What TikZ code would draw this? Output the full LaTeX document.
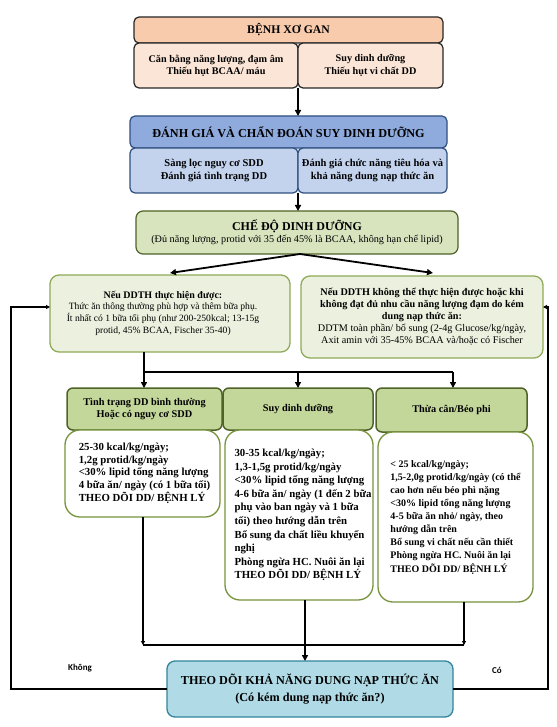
\documentclass[tikz,border=0pt]{standalone}
\usepackage{fontspec}
\setmainfont{Liberation Serif}
\newfontfamily\lblfont{Carlito}
\usetikzlibrary{arrows.meta}
\definecolor{peachH}{HTML}{F8CBAD}
\definecolor{peachS}{HTML}{FBE5D6}
\definecolor{blueH}{HTML}{8FAADC}
\definecolor{blueS}{HTML}{C3D3EE}
\definecolor{blueD}{HTML}{2F4F7F}
\definecolor{dietF}{HTML}{D8E4BE}
\definecolor{oliveD}{HTML}{4F6228}
\definecolor{condF}{HTML}{EBF1DE}
\definecolor{condD}{HTML}{8FAA58}
\definecolor{colH}{HTML}{C4D79B}
\definecolor{colD}{HTML}{77933C}
\definecolor{finF}{HTML}{B0DBE6}
\definecolor{finD}{HTML}{31849B}
\tikzset{
  box/.style={draw, rounded corners=5pt, inner sep=0pt, outer sep=0pt, align=center, line width=1.2pt},
  ph/.style={box, fill=peachH, draw=black!85, font=\bfseries\fontsize{11.7}{13}\selectfont},
  ps/.style={box, fill=peachS, draw=black!85, font=\bfseries\fontsize{10.2}{12.3}\selectfont},
  bh/.style={box, fill=blueH, draw=blueD, font=\bfseries\fontsize{12.2}{14}\selectfont},
  bs/.style={box, fill=blueS, draw=blueD, font=\bfseries\fontsize{10.5}{13}\selectfont},
  diet/.style={box, fill=dietF, draw=oliveD, rounded corners=7pt, font=\fontsize{10.2}{12.5}\selectfont},
  cond/.style={box, fill=condF, draw=condD, rounded corners=9pt, line width=1.3pt},
  colhead/.style={box, fill=colH, draw=oliveD, line width=1.5pt, rounded corners=6pt, font=\bfseries\fontsize{10.3}{12.8}\selectfont},
  colbody/.style={box, fill=white, draw=colD, line width=1.3pt, rounded corners=15pt},
  fin/.style={box, fill=finF, draw=finD, line width=1.3pt, rounded corners=8pt, font=\bfseries\fontsize{12.2}{17}\selectfont},
  arr/.style={line width=1.8pt, -{Triangle[length=6pt,width=6pt]}},
  thinarr/.style={line width=1.5pt, -{Triangle[length=4pt,width=4pt]}},
  ln/.style={line width=1.8pt},
  lbl/.style={font=\lblfont\bfseries\fontsize{9}{11}\selectfont}
}
\begin{document}
\begin{tikzpicture}[x=1pt,y=-1pt]
\useasboundingbox (0,0) rectangle (556,727);
% top block
\node[ph, minimum width=309pt, minimum height=26pt] (h1) at (288.5,30) {BỆNH XƠ GAN};
\node[ps, minimum width=164pt, minimum height=45pt] (p1) at (216,65.5) {Căn bằng năng lượng, đạm âm\\Thiếu hụt BCAA/ máu};
\node[ps, minimum width=145pt, minimum height=45pt] (p2) at (370.5,65.5) {Suy dinh dưỡng\\Thiếu hụt vi chất DD};
% blue block
\node[bh, minimum width=317pt, minimum height=32pt] (h2) at (288.5,132) {ĐÁNH GIÁ VÀ CHẨN ĐOÁN SUY DINH DƯỠNG};
\node[bs, minimum width=168pt, minimum height=45pt] (b1) at (214,170.5) {Sàng lọc nguy cơ SDD\\Đánh giá tình trạng DD};
\node[bs, minimum width=149pt, minimum height=45pt] (b2) at (372.5,170.5) {Đánh giá chức năng tiêu hóa và\\khả năng dung nạp thức ăn};
% diet
\node[diet, minimum width=322pt, minimum height=43pt] (d) at (297,232.5) {{\bfseries\fontsize{12}{14}\selectfont CHẾ ĐỘ DINH DƯỠNG}\\(Đủ năng lượng, protid với 35 đến 45\% là BCAA, không hạn chế lipid)};
% conditions
\node[cond, minimum width=240pt, minimum height=77pt, font=\fontsize{9.6}{11.6}\selectfont] (c1) at (170,313.5) {\begin{tabular}{@{}c@{}}\textbf{\fontsize{10}{11.6}\selectfont Nếu DDTH thực hiện được:}\\Thức ăn thông thường phù hợp và thêm bữa phụ.\\Ít nhất có 1 bữa tối phụ (như 200-250kcal; 13-15g\\protid, 45\% BCAA, Fischer 35-40)\end{tabular}\hspace*{14pt}};
\node[cond, minimum width=242pt, minimum height=82pt, font=\fontsize{10.2}{12}\selectfont] (c2) at (422,317) {\textbf{Nếu DDTH không thể thực hiện được hoặc khi}\\\textbf{không đạt đủ nhu cầu năng lượng đạm do kém}\\\textbf{dung nạp thức ăn:}\\DDTM toàn phần/ bổ sung (2-4g Glucose/kg/ngày,\\Axit amin với 35-45\% BCAA và/hoặc có Fischer};
% columns
\node[colhead, minimum width=155pt, minimum height=42pt] (k1) at (144.5,409) {Tình trạng DD bình thường\\Hoặc có nguy cơ SDD};
\node[colhead, minimum width=150pt, minimum height=42pt] (k2) at (298,409) {Suy dinh dưỡng};
\node[colhead, minimum width=151pt, minimum height=44pt] (k3) at (451.5,410) {Thừa cân/Béo phi};
\node[colbody, minimum width=155pt, minimum height=87pt, font=\bfseries\fontsize{10.8}{12.6}\selectfont] (m1) at (142.5,473.5) {\hspace*{4pt}\begin{tabular}{@{}l@{}}25-30 kcal/kg/ngày;\\1,2g protid/kg/ngày\\<30\% lipid tổng năng lượng\\4 bữa ăn/ ngày (có 1 bữa tối)\\THEO DÕI DD/ BỆNH LÝ\end{tabular}};
\node[colbody, minimum width=148pt, minimum height=170pt, font=\bfseries\fontsize{10.8}{13.6}\selectfont] (m2) at (299,515) {\hspace*{8pt}\begin{tabular}{@{}l@{}}30-35 kcal/kg/ngày;\\1,3-1,5g protid/kg/ngày\\<30\% lipid tổng năng lượng\\4-6 bữa ăn/ ngày (1 đến 2 bữa\\phụ vào ban ngày và 1 bữa\\tối) theo hướng dẫn trên\\Bổ sung đa chất liều khuyến\\nghị\\Phòng ngừa HC. Nuôi ăn lại\\THEO DÕI DD/ BỆNH LÝ\end{tabular}};
\node[colbody, minimum width=155pt, minimum height=170pt, font=\bfseries\fontsize{10}{13.1}\selectfont] (m3) at (455.5,517) {\begin{tabular}{@{}l@{}}< 25 kcal/kg/ngày;\\1,5-2,0g protid/kg/ngày (có thể\\cao hơn nếu béo phì nặng\\<30\% lipid tổng năng lượng\\4-5 bữa ăn nhỏ/ ngày, theo\\hướng dẫn trên\\Bổ sung vi chất nếu cần thiết\\Phòng ngừa HC. Nuôi ăn lại\\THEO DÕI DD/ BỆNH LÝ\end{tabular}};
% final
\node[fin, minimum width=286pt, minimum height=56pt] (f) at (310,689) {THEO DÕI KHẢ NĂNG DUNG NẠP THỨC ĂN\\(Có kém dung nạp thức ăn?)};
% labels
\node[lbl] (no) at (80,668) {Không};
\node[lbl] (yes) at (497,670) {Có};
% coordinates
\coordinate (j1) at (144,372);
\coordinate (j3) at (453,372);
\coordinate (q1) at (143,645);
\coordinate (q3) at (464,645);
% connectors
\draw[arr] (p1.south east) -- (p1.south east |- h2.north);
\draw[arr] (b1.south east) -- (b1.south east |- d.north);
\draw[arr] (d.south) ++(3,0) -- (170,273);
\draw[arr] (d.south) ++(3,0) -- (433,273);
\draw[ln] (c1.south -| j1) -- (j1) -- (j3);
\draw[arr] (j1) -- (j1 |- k1.north);
\draw[arr] (j1 -| k2.north) -- (k2.north);
\draw[arr] (j3) -- (j3 |- k3.north);
\draw[thinarr] (m1.south -| q1) -- (q1);
\draw[thinarr] (m3.south -| q3) -- (q3);
\draw[ln] (q1) -- (q3);
\draw[arr] (m2.south -| 305,0) -- (f.north -| 305,0);
\draw[thinarr] (f.west) -- (11,689) -- (11,307) -- (c1.west |- 0,307);
\draw[thinarr] (f.east) -- (548,689) -- (548,307) -- (c2.east |- 0,307);
\end{tikzpicture}
\end{document}
